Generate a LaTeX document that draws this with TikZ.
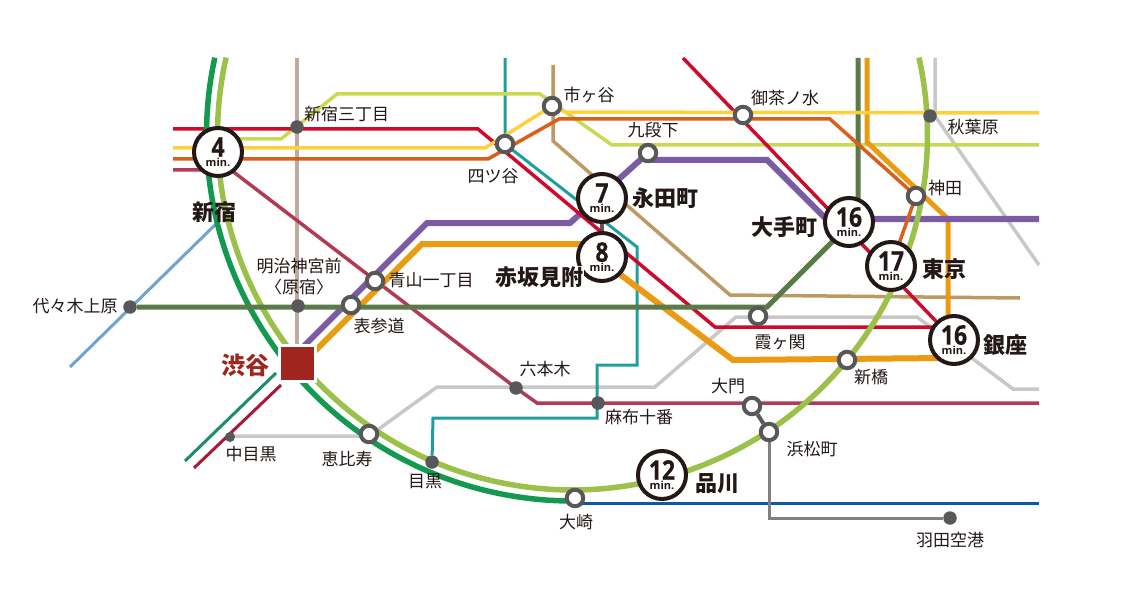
\documentclass[tikz,border=0pt]{standalone}
\usepackage{fontspec}
\setmainfont{Noto Sans CJK JP}
\newfontfamily\timefont{Open Sans}
\newfontfamily\numfont[FakeStretch=0.85,FakeBold=0.5]{Open Sans}
\usetikzlibrary{backgrounds}
\newcommand{\bignum}{\numfont\fontsize{27}{10}\selectfont\bfseries}
\tikzset{
    % all lengths below are pixels of the map
    stationmark/.style={circle,draw=markgray,fill=white,line width=4pt,minimum size=16.5pt,inner sep=0pt},
    stopmark/.style={circle,fill=markgray,minimum size=13.5pt,inner sep=0pt},
    timemark/.style={circle,draw=inkblack,fill=white,line width=4pt,minimum size=48pt,inner sep=0pt,align=center,
        text=inkblack,font=\timefont\fontsize{11}{10}\selectfont\bfseries},
    hubmark/.style={rectangle,fill=hubred,draw=white,line width=3pt,minimum size=36pt,inner sep=0pt},
    smalltext/.style={text=inkblack,font=\fontsize{17}{19}\selectfont,inner sep=0pt},
    bigtext/.style={text=inkblack,font=\fontsize{22}{24}\selectfont\bfseries,inner sep=0pt},
    thinline/.style={line width=3pt},
    midline/.style={line width=3.5pt},
    wideline/.style={line width=5pt}
}
\definecolor{markgray}{HTML}{58585A}
\definecolor{inkblack}{HTML}{231815}
\definecolor{hubred}{HTML}{9E261F}
\definecolor{ringgreen}{HTML}{9BC14A}
\definecolor{saikyogreen}{HTML}{149A50}
\definecolor{redline}{HTML}{CE0B2C}
\definecolor{yellowline}{HTML}{FBD23D}
\definecolor{chuoline}{HTML}{D8601A}
\definecolor{limeline}{HTML}{CBD851}
\definecolor{oedoline}{HTML}{B23A55}
\definecolor{tanline}{HTML}{BC9A62}
\definecolor{taupeline}{HTML}{BFAB9B}
\definecolor{tealline}{HTML}{1F9E9E}
\definecolor{purpleline}{HTML}{7A5BA4}
\definecolor{orangeline}{HTML}{EB9B12}
\definecolor{chiyodaline}{HTML}{5A7A4A}
\definecolor{grayline}{HTML}{C8C8C8}
\definecolor{skyline}{HTML}{6FA3D2}
\definecolor{seagreenline}{HTML}{1E8A70}
\definecolor{crimsonline}{HTML}{A61A38}
\definecolor{blueline}{HTML}{0B5AA6}
\definecolor{monoline}{HTML}{808080}
\begin{document}
\begin{tikzpicture}[x=1pt,y=-1pt]
    \useasboundingbox (0,0) rectangle (1128,607);
    % stations
    \foreach \name/\x/\y in {yotsuya/505/144,ichigaya/552/106,ochanomizu/743/115,kudanshita/648/153,
        kanda/916/196,aoyama/375/281,omotesando/351/305,kasumigaseki/758/316,shimbashi/847/360,
        daimon/752/406,hamamatsucho/769/432,osaki/575/498,ebisu/369/434}
    \node[stationmark] (\name) at (\x,\y) {};
    \foreach \name/\x/\y in {sanchome/297/127,akihabara/930/116,uehara/130/307,jingumae/298/306,
        meguro/432/462,roppongi/516/388,azabu/598/403,haneda/950/518}
    \node[stopmark] (\name) at (\x,\y) {};
    \node[stopmark,minimum size=10pt] (nakameguro) at (230,437) {};
    \node[hubmark] (shibuya) at (297,363) {};
    \node[timemark] (shinjuku) at (218,152) {{\bignum 4}\\min.};
    \node[timemark] (nagatacho) at (602,198) {{\bignum 7}\\min.};
    \node[timemark] (akasaka) at (602,257) {{\bignum 8}\\min.};
    \node[timemark] (otemachi) at (849,222) {{\bignum 16}\\min.};
    \node[timemark] (tokyo) at (891,266) {{\bignum 17}\\min.};
    \node[timemark] (ginza) at (954,340) {{\bignum 16}\\min.};
    \node[timemark] (shinagawa) at (662,475) {{\bignum 12}\\min.};
    % free ends
    \coordinate (redwest) at (173,129);
    \coordinate (yellowwest) at (173,148);
    \coordinate (chuowest) at (173,159);
    \coordinate (oedowest) at (173,170);
    \coordinate (yelloweast) at (1039,113);
    \coordinate (limeeast) at (1039,145);
    \coordinate (oedoeast) at (1039,403);
    \coordinate (purpleeast) at (1039,219);
    \coordinate (blueeast) at (1039,503);
    \coordinate (grayeast) at (1039,389);
    \coordinate (akibaeast) at (1039,265);
    \coordinate (tantop) at (553,65);
    \coordinate (taneast) at (1020,298);
    \coordinate (taupetop) at (297,58);
    \coordinate (tealtop) at (505,58);
    \coordinate (redtop) at (683,58);
    \coordinate (chiyodatop) at (858,58);
    \coordinate (orangetop) at (867,58);
    \coordinate (akibatop) at (935,58);
    \coordinate (skysouth) at (70,367);
    \coordinate (skynorth) at (218,222);
    \coordinate (seasouth) at (185,461);
    \coordinate (crimsonsouth) at (194,468);
    % lines
    \begin{scope}[on background layer]
        \draw[midline,taupeline] (taupetop) -- (shibuya);
        \draw[midline,tanline] (tantop) -- (553,141) -- (730,295) -- (taneast);
        \draw[midline,grayline] (nakameguro) -- (230,436) -- (369,436) -- (437,387) -- (655,387) -- (736,317) -- (917,317) -- (1013,389) -- (grayeast);
        \draw[midline,grayline] (akibatop) -- (935,116) -- (akibaeast);
        \draw[thinline,skyline] (skysouth) -- (skynorth);
        \draw[thinline,seagreenline] (seasouth) -- (276,373);
        \draw[thinline,crimsonline] (crimsonsouth) -- (281,385);
        \draw[thinline,blueline] (osaki) -- (575,503) -- (blueeast);
        \draw[thinline,monoline] (hamamatsucho) -- (769,518) -- (haneda);
        \draw[line width=4pt,markgray] (daimon) -- (hamamatsucho);
        \draw[line width=4pt,markgray] (nagatacho) -- (akasaka);
        \draw[thinline,tealline] (tealtop) -- (505,144) -- (637,247) -- (637,365) -- (597,365) -- (597,418) -- (433,418) -- (meguro);
        \draw[midline,oedoline] (oedowest) -- (231,170) -- (roppongi.center) -- (537,403) -- (oedoeast);
        \draw[midline,limeline] (218,139) -- (281,139) -- (337,94) -- (540,94) -- (612,145) -- (limeeast);
        \draw[line width=6pt,orangeline] (303,363) -- (422,244) -- (580,244) -- (733,360) -- (945,358);
        \draw[wideline,orangeline] (orangetop) -- (867,142) -- (948,219) -- (948,325);
        \draw[line width=6pt,purpleline] (295,355) -- (427,223) -- (570,223) -- (kudanshita.center) -- (653,160) -- (767,160) -- (826,219) -- (purpleeast);
        \draw[midline,redline] (redwest) -- (478,129) -- (715,327) -- (940,327);
        \draw[midline,redline] (redtop) -- (ginza);
        \draw[line width=5.5pt,saikyogreen] plot[domain=90:192.2,samples=50,smooth] ({572.5+366*cos(\x)},{135+366*sin(\x)});
        \draw[line width=5.5pt,ringgreen] plot[domain=-12.6:192.6,samples=90,smooth] ({572.5+355*cos(\x)},{135+355*sin(\x)});
        \draw[wideline,chiyodaline] (chiyodatop) -- (858,216) -- (767,307) -- (uehara);
        \draw[midline,chuoline] (chuowest) -- (488,159) -- (559,119) -- (830,119) -- (kanda.center) -- (tokyo);
        \draw[midline,yellowline] (yellowwest) -- (485,148) -- (ichigaya.center) -- (565,112) -- (yelloweast);
    \end{scope}
    % names
    \node[smalltext,anchor=west] (sanchomename) at (304,114) {新宿三丁目};
    \node[smalltext] (ichigayaname) at (589,95) {市ヶ谷};
    \node[smalltext] (ochanomizuname) at (785,98) {御茶ノ水};
    \node[smalltext] (kudanshitaname) at (653,130) {九段下};
    \node[smalltext] (akihabaraname) at (973,127) {秋葉原};
    \node[smalltext] (yotsuyaname) at (493,176) {四ツ谷};
    \node[smalltext] (kandaname) at (945,188) {神田};
    \node[smalltext] (jingumaename) at (299,266) {明治神宮前};
    \node[smalltext] (haradukuname) at (299,287) {〈原宿〉};
    \node[smalltext] (aoyamaname) at (431,280) {青山一丁目};
    \node[smalltext] (omotesandoname) at (379,326) {表参道};
    \node[smalltext] (ueharaname) at (75,306) {代々木上原};
    \node[smalltext] (kasumigasekiname) at (780,342) {霞ヶ関};
    \node[smalltext] (shimbashiname) at (871,377) {新橋};
    \node[smalltext] (ropponginame) at (545,369) {六本木};
    \node[smalltext] (daimonname) at (728,386) {大門};
    \node[smalltext] (azabuname) at (639,417) {麻布十番};
    \node[smalltext] (hamamatsuchoname) at (812,449) {浜松町};
    \node[smalltext] (nakameguroname) at (251,454) {中目黒};
    \node[smalltext] (ebisuname) at (347,459) {恵比寿};
    \node[smalltext] (meguroname) at (425,481) {目黒};
    \node[smalltext] (osakiname) at (576,522) {大崎};
    \node[smalltext] (hanedaname) at (950,540) {羽田空港};
    \node[bigtext] (shinjukuname) at (214,212) {新宿};
    \node[bigtext] (nagatachoname) at (665,198) {永田町};
    \node[bigtext,fill=white,inner sep=1pt] (akasakaname) at (539,277) {赤坂見附};
    \node[bigtext] (otemachiname) at (784,227) {大手町};
    \node[bigtext] (tokyoname) at (944,269) {東京};
    \node[bigtext] (ginzaname) at (1005,345) {銀座};
    \node[bigtext] (shinagawaname) at (717,484) {品川};
    \node[bigtext,text=hubred,font=\fontsize{24}{26}\selectfont\bfseries] (shibuyaname) at (245,365) {渋谷};
\end{tikzpicture}
\end{document}
